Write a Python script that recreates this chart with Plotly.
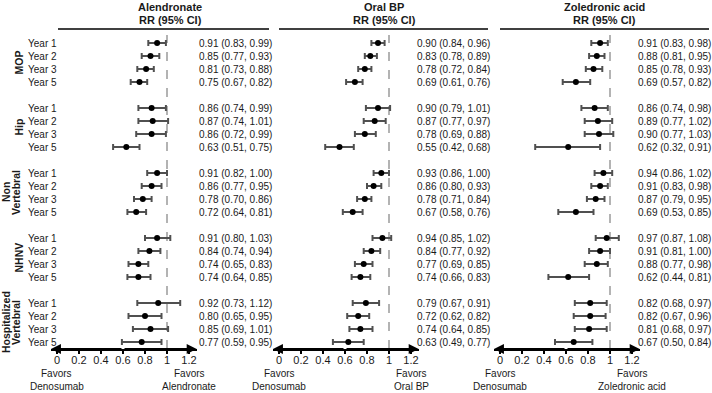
import plotly.graph_objects as go

W, H = 712, 393

panels = ["Alendronate", "Oral BP", "Zoledronic acid"]
groups = [["MOP"], ["Hip"], ["Non", "Vertebral"], ["NHNV"], ["Hospitalized", "Vertebral"]]
years = ["Year 1", "Year 2", "Year 3", "Year 5"]
tick_vals = [0, 0.2, 0.4, 0.6, 0.8, 1, 1.2]
tick_text = ["0", "0.2", "0.4", "0.6", "0.8", "1", "1.2"]

# RR, lower, upper per panel, group-major order (MOP, Hip, NV, NHNV, HV) x (Y1, Y2, Y3, Y5)
alen_rr = [0.91, 0.85, 0.81, 0.75, 0.86, 0.87, 0.86, 0.63, 0.91, 0.86, 0.78, 0.72, 0.91, 0.84, 0.74, 0.74, 0.92, 0.80, 0.85, 0.77]
alen_lo = [0.83, 0.77, 0.73, 0.67, 0.74, 0.74, 0.72, 0.51, 0.82, 0.77, 0.70, 0.64, 0.80, 0.74, 0.65, 0.64, 0.73, 0.65, 0.69, 0.59]
alen_hi = [0.99, 0.93, 0.88, 0.82, 0.99, 1.01, 0.99, 0.75, 1.00, 0.95, 0.86, 0.81, 1.03, 0.94, 0.83, 0.85, 1.12, 0.95, 1.01, 0.95]

obp_rr = [0.90, 0.83, 0.78, 0.69, 0.90, 0.87, 0.78, 0.55, 0.93, 0.86, 0.78, 0.67, 0.94, 0.84, 0.77, 0.74, 0.79, 0.72, 0.74, 0.63]
obp_lo = [0.84, 0.78, 0.72, 0.61, 0.79, 0.77, 0.69, 0.42, 0.86, 0.80, 0.71, 0.58, 0.85, 0.77, 0.69, 0.66, 0.67, 0.62, 0.64, 0.49]
obp_hi = [0.96, 0.89, 0.84, 0.76, 1.01, 0.97, 0.88, 0.68, 1.00, 0.93, 0.84, 0.76, 1.02, 0.92, 0.85, 0.83, 0.91, 0.82, 0.85, 0.77]

zol_rr = [0.91, 0.88, 0.85, 0.69, 0.86, 0.89, 0.90, 0.62, 0.94, 0.91, 0.87, 0.69, 0.97, 0.91, 0.88, 0.62, 0.82, 0.82, 0.81, 0.67]
zol_lo = [0.83, 0.81, 0.78, 0.57, 0.74, 0.77, 0.77, 0.32, 0.86, 0.83, 0.79, 0.53, 0.87, 0.81, 0.77, 0.44, 0.68, 0.67, 0.68, 0.50]
zol_hi = [0.98, 0.95, 0.93, 0.82, 0.98, 1.02, 1.03, 0.91, 1.02, 0.98, 0.95, 0.85, 1.08, 1.00, 0.98, 0.81, 0.97, 0.96, 0.97, 0.84]

data = [(alen_rr, alen_lo, alen_hi), (obp_rr, obp_lo, obp_hi), (zol_rr, zol_lo, zol_hi)]

FONT = "Liberation Sans, Arial, sans-serif"
TXT = "#1a1a1a"

def px(x):
    return x / W

def py(y):
    return 1 - y / H

# rows: group g, year k -> g*5 + k
rows = [g * 5 + k for g in range(len(groups)) for k in range(len(years))]

# layout geometry (pixels)
zero_px = [57, 279, 500]
unit = 110.0
xmin, xmax = -0.055, 1.27
axis_y = 349
top_y = 30
text_px = [197, 415, 636]
head_px = [170, 384, 604]
line_ranges = [(58, 269), (279, 488), (500, 709)]

y_top = -(43 - top_y) / 13.0
y_bot = (axis_y - 43) / 13.0

fig = go.Figure()
ann = []
shapes = []

for i, (name, (rr, lo, hi)) in enumerate(zip(panels, data)):
    xa = "x" if i == 0 else f"x{i+1}"
    fig.add_trace(go.Scatter(
        x=rr, y=rows, mode="markers", xaxis=xa, yaxis="y",
        marker=dict(color="black", size=6),
        error_x=dict(type="data", symmetric=False,
                     array=[h - r for r, h in zip(rr, hi)],
                     arrayminus=[r - l for r, l in zip(rr, lo)],
                     color="#505050", thickness=2, width=3),
        showlegend=False, hoverinfo="skip", cliponaxis=False,
    ))
    d0 = zero_px[i] + xmin * unit
    d1 = zero_px[i] + xmax * unit
    axkey = "xaxis" if i == 0 else f"xaxis{i+1}"
    fig.layout[axkey] = dict(
        domain=[px(d0), px(d1)], range=[xmin, xmax], anchor="y",
        showgrid=False, zeroline=False, showline=True, linecolor="black", linewidth=2,
        ticks="outside", ticklen=3, tickwidth=1.5, tickcolor="black",
        tickvals=tick_vals, ticktext=tick_text, ticklabelstandoff=-3,
        tickfont=dict(family=FONT, size=11, color=TXT), fixedrange=True,
    )
    # arrowheads on axis
    for tip, tail in ((xmax, 0.6), (xmin, 0.6)):
        ann.append(dict(x=tip, y=y_bot, xref=xa, yref="y",
                        ax=tail, ay=y_bot, axref=xa, ayref="y",
                        showarrow=True, arrowhead=2, arrowsize=1, arrowwidth=2,
                        arrowcolor="black", text=""))
    # dashed reference line at 1
    shapes.append(dict(type="line", xref=xa, yref="paper", x0=1, x1=1,
                       y0=py(axis_y), y1=py(35), layer="below",
                       line=dict(color="#9a9a9a", width=1.5, dash="dash")))
    # headers
    ann.append(dict(x=px(head_px[i]), y=py(7), xref="paper", yref="paper",
                    text=f"<b>{name}</b>", showarrow=False, xanchor="center", yanchor="middle",
                    font=dict(family=FONT, size=11, color=TXT)))
    ann.append(dict(x=px(head_px[i]), y=py(20), xref="paper", yref="paper",
                    text="<b>RR (95% CI)</b>", showarrow=False, xanchor="center", yanchor="middle",
                    font=dict(family=FONT, size=11, color=TXT)))
    a, b = line_ranges[i]
    shapes.append(dict(type="line", xref="paper", yref="paper", x0=px(a), x1=px(b),
                       y0=py(29), y1=py(29), line=dict(color="black", width=1.5)))
    # RR text column
    for r, l, h, row in zip(rr, lo, hi, rows):
        ann.append(dict(x=px(text_px[i]), y=row, xref="paper", yref="y",
                        text=f"{r:.2f} ({l:.2f}, {h:.2f})", showarrow=False,
                        xanchor="left", yanchor="middle",
                        font=dict(family=FONT, size=10, color=TXT)))
    # favors labels
    right = "Alendronate" if i == 0 else name
    for xv, lab in ((0, "Denosumab"), (1.2, right)):
        for yy, t in ((373, "Favors"), (386, lab)):
            ann.append(dict(x=xv, y=py(yy), xref=xa, yref="paper",
                            text=t, showarrow=False,
                            xanchor="center", yanchor="middle",
                            font=dict(family=FONT, size=10, color=TXT)))

# year labels and group labels (first panel)
for g, glines in enumerate(groups):
    for k, yr in enumerate(years):
        ann.append(dict(x=px(26), y=g * 5 + k, xref="paper", yref="y",
                        text=yr, showarrow=False, xanchor="left", yanchor="middle",
                        font=dict(family=FONT, size=10, color=TXT)))
    xs = [18] if len(glines) == 1 else [5.5, 15.5]
    for gx, gl in zip(xs, glines):
        ann.append(dict(x=px(gx), y=g * 5 + 1.5, xref="paper", yref="y",
                        text=f"<b>{gl}</b>", showarrow=False, textangle=-90,
                        xanchor="center", yanchor="middle",
                        font=dict(family=FONT, size=10.5, color=TXT)))

fig.update_layout(
    width=W, height=H, margin=dict(l=0, r=0, t=0, b=0),
    paper_bgcolor="white", plot_bgcolor="white",
    yaxis=dict(domain=[py(axis_y), py(top_y)], range=[y_bot, y_top],
               visible=False, fixedrange=True),
    annotations=ann, shapes=shapes,
    font=dict(family=FONT),
)

fig.write_html("out.html", post_script="document.body.style.margin='0px';",
               config={"displayModeBar": False})
